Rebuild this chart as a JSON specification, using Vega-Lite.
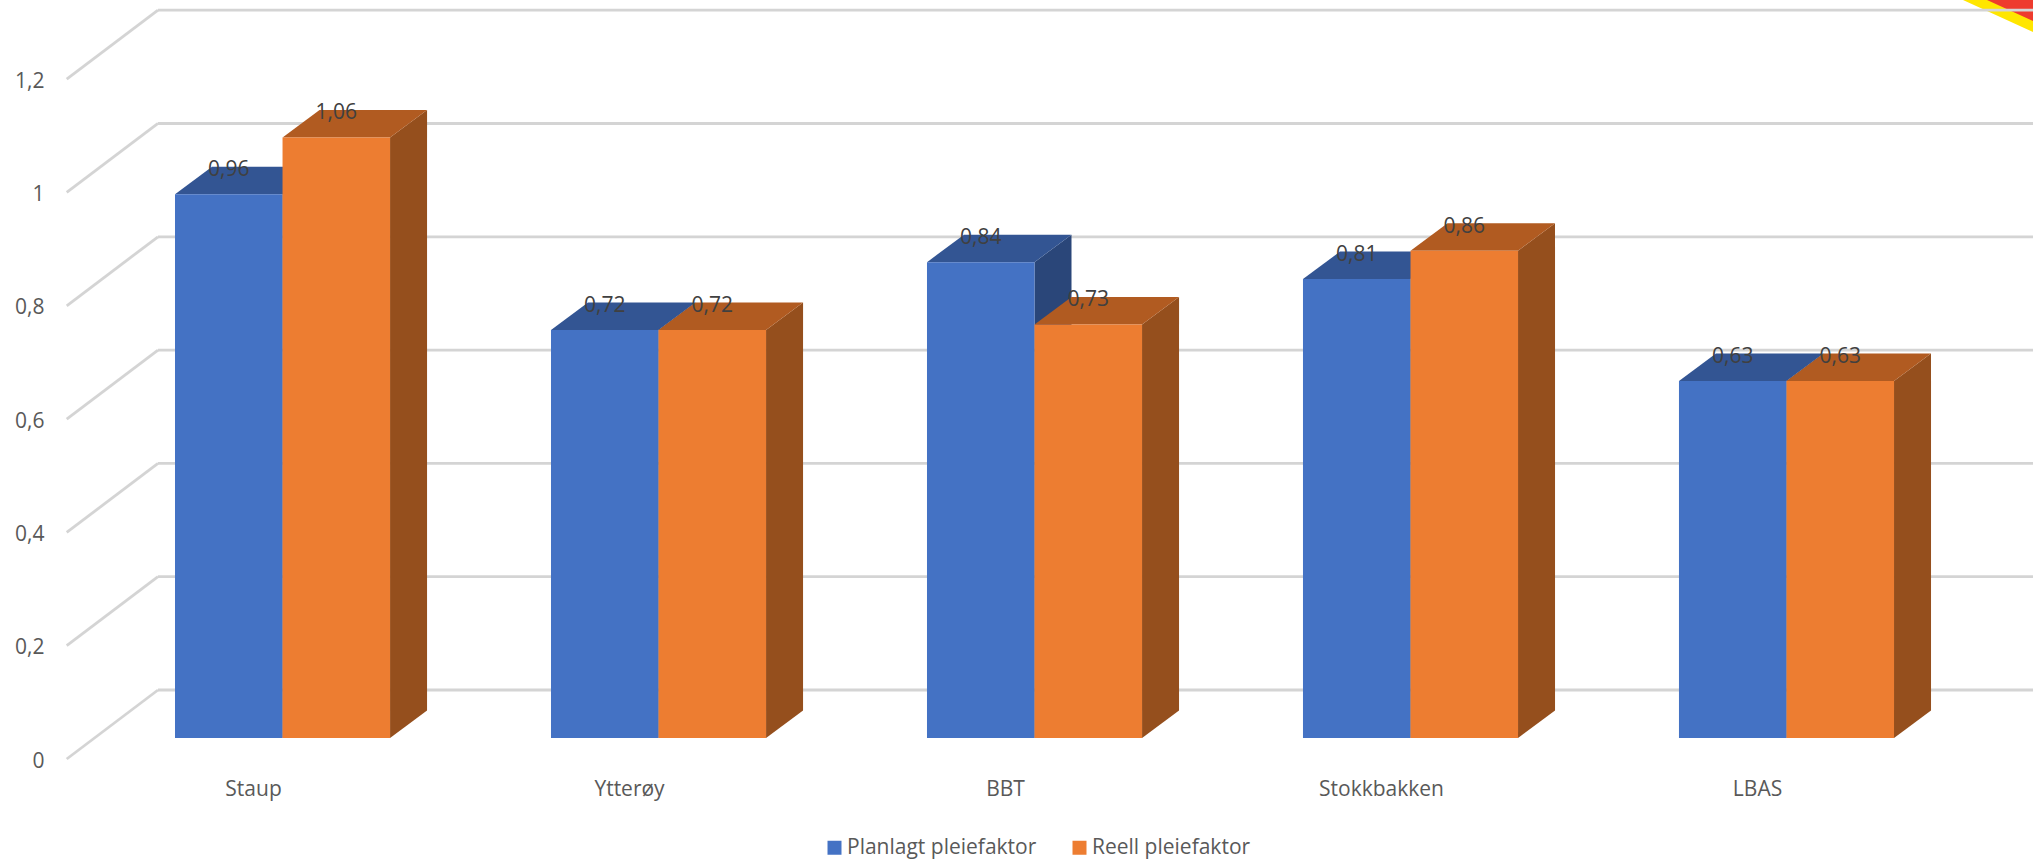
{
  "$schema": "https://vega.github.io/schema/vega-lite/v6.json",
  "width": 1875,
  "height": 738,
  "autosize": "none",
  "padding": {"left": 158, "right": 0, "top": 0, "bottom": 122},
  "background": "white",
  "config": {"view": {"stroke": null}, "font": "Open Sans"},
  "data": {"values": [
    {"site": "Staup", "series": "Planlagt pleiefaktor", "value": 0.96},
    {"site": "Staup", "series": "Reell pleiefaktor", "value": 1.06},
    {"site": "Ytterøy", "series": "Planlagt pleiefaktor", "value": 0.72},
    {"site": "Ytterøy", "series": "Reell pleiefaktor", "value": 0.72},
    {"site": "BBT", "series": "Planlagt pleiefaktor", "value": 0.84},
    {"site": "BBT", "series": "Reell pleiefaktor", "value": 0.73},
    {"site": "Stokkbakken", "series": "Planlagt pleiefaktor", "value": 0.81},
    {"site": "Stokkbakken", "series": "Reell pleiefaktor", "value": 0.86},
    {"site": "LBAS", "series": "Planlagt pleiefaktor", "value": 0.63},
    {"site": "LBAS", "series": "Reell pleiefaktor", "value": 0.63}
  ]},
  "transform": [
    {"calculate": "replace(format(datum.value,'.2f'),'.',',')", "as": "label"},
    {"calculate": "'M53.75,0L90.75,-27.5L90.75,' + (datum.value*566.5-27.5) + 'L53.75,' + (datum.value*566.5) + 'Z'", "as": "sidePath"}
  ],
  "layer": [
    {
      "data": {"values": [{"band": "yellow", "path": "M-70,0L0,32L0,0Z"}, {"band": "red", "path": "M-46,0L0,21L0,0Z"}]},
      "mark": {"type": "point", "filled": true, "opacity": 1, "size": 4, "strokeWidth": 0, "clip": false},
      "encoding": {
        "x": {"value": 1875},
        "y": {"value": 0},
        "shape": {"field": "path", "type": "nominal", "scale": null},
        "color": {"field": "band", "type": "nominal", "scale": {"domain": ["yellow", "red"], "range": ["#FFE600", "#EE3B2E"]}, "legend": null}
      }
    },
    {
      "data": {"values": [{"v": 0}, {"v": 0.2}, {"v": 0.4}, {"v": 0.6}, {"v": 0.8}, {"v": 1}, {"v": 1.2}]},
      "mark": {"type": "rule", "color": "#D4D4D4", "strokeWidth": 2.8, "yOffset": -48},
      "encoding": {
        "y": {"field": "v", "type": "quantitative", "scale": {"domain": [0, 1.3027], "nice": false, "zero": true}, "axis": {"title": null, "values": [0, 0.2, 0.4, 0.6, 0.8, 1, 1.2], "domain": false, "ticks": false, "grid": false, "labelPadding": 114, "labelOffset": 23, "labelFontSize": 21, "labelColor": "#595959", "labelFont": "Open Sans", "labelExpr": "replace(format(datum.value,'.2~f'),'.',',')"}}
      }
    },
    {
      "data": {"values": [{"v": 0}, {"v": 0.2}, {"v": 0.4}, {"v": 0.6}, {"v": 0.8}, {"v": 1}, {"v": 1.2}]},
      "mark": {"type": "point", "filled": false, "opacity": 1, "size": 4, "stroke": "#D4D4D4", "strokeWidth": 2.8, "shape": "M0,-48L-91.3,21", "clip": false},
      "encoding": {
        "x": {"value": 0},
        "y": {"field": "v", "type": "quantitative"}
      }
    },
    {
      "mark": {"type": "point", "filled": true, "opacity": 1, "size": 4, "strokeWidth": 0},
      "encoding": {
        "x": {"field": "site", "type": "nominal", "sort": ["Staup", "Ytterøy", "BBT", "Stokkbakken", "LBAS"], "scale": {"type": "band", "paddingInner": 0.428, "paddingOuter": 0.2074, "align": 0.109}},
        "xOffset": {"field": "series", "type": "nominal", "scale": {"type": "band", "paddingInner": 0, "paddingOuter": 0}},
        "y": {"field": "value", "type": "quantitative"},
        "shape": {"field": "sidePath", "type": "nominal", "scale": null},
        "color": {"field": "series", "type": "nominal", "scale": {"domain": ["Planlagt pleiefaktor", "Reell pleiefaktor"], "range": ["#2A4679", "#954F1D"]}, "legend": null}
      }
    },
    {
      "mark": {"type": "point", "filled": true, "opacity": 1, "size": 4, "strokeWidth": 0, "shape": "M-53.75,0L-16.75,-27.5L90.75,-27.5L53.75,0Z"},
      "encoding": {
        "x": {"field": "site", "type": "nominal", "sort": ["Staup", "Ytterøy", "BBT", "Stokkbakken", "LBAS"]},
        "xOffset": {"field": "series", "type": "nominal"},
        "y": {"field": "value", "type": "quantitative"},
        "color": {"field": "series", "type": "nominal", "scale": {"domain": ["Planlagt pleiefaktor", "Reell pleiefaktor"], "range": ["#335593", "#B15B21"]}, "legend": null}
      }
    },
    {
      "mark": {"type": "bar", "opacity": 1},
      "encoding": {
        "x": {"field": "site", "type": "nominal", "sort": ["Staup", "Ytterøy", "BBT", "Stokkbakken", "LBAS"], "axis": {"title": null, "domain": false, "ticks": false, "labelAngle": 0, "labelAlign": "center", "labelPadding": 51, "labelOffset": -29, "labelFontSize": 21, "labelColor": "#595959", "labelFont": "Open Sans"}},
        "xOffset": {"field": "series", "type": "nominal"},
        "y": {"field": "value", "type": "quantitative"},
        "color": {"field": "series", "type": "nominal", "scale": {"domain": ["Planlagt pleiefaktor", "Reell pleiefaktor"], "range": ["#4472C4", "#ED7D31"]}, "legend": {"title": null, "orient": "none", "legendX": 666, "legendY": 837, "direction": "horizontal", "columns": 2, "symbolType": "square", "symbolSize": 196, "symbolStrokeWidth": 0, "labelFontSize": 21, "labelColor": "#595959", "labelFont": "Open Sans", "labelLimit": 300, "columnPadding": 32, "labelOffset": 2}}
      }
    },
    {
      "mark": {"type": "text", "align": "center", "baseline": "middle", "dy": -24, "fontSize": 21, "font": "Open Sans", "color": "#404040"},
      "encoding": {
        "x": {"field": "site", "type": "nominal", "sort": ["Staup", "Ytterøy", "BBT", "Stokkbakken", "LBAS"]},
        "xOffset": {"field": "series", "type": "nominal"},
        "y": {"field": "value", "type": "quantitative"},
        "text": {"field": "label", "type": "nominal"}
      }
    }
  ],
  "resolve": {"scale": {"color": "independent", "shape": "independent"}}
}
